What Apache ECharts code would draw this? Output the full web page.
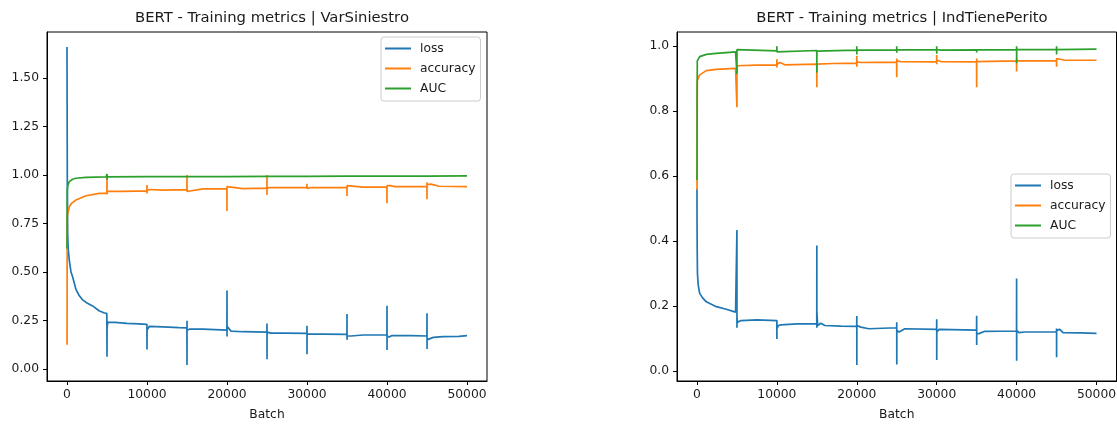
<!DOCTYPE html>
<html>
<head>
<meta charset="utf-8">
<title>BERT - Training metrics</title>
<script src="https://cdn.jsdelivr.net/npm/echarts@6/dist/echarts.min.js"></script>
<style>
  html, body { margin: 0; padding: 0; background: #fff; }
  #chart { width: 1117px; height: 424px; }
</style>
</head>
<body>
<div id="chart"></div>
<script>
// Per-batch training metrics, [batch, value] pairs.

// ---- VarSiniestro ----
const varLoss = [
  [0, 1.66], [40, 0.95], [80, 0.70], [150, 0.62], [290, 0.56], [500, 0.50], [700, 0.475],
  [1120, 0.41], [1500, 0.38], [1950, 0.356], [2500, 0.34], [3200, 0.325], [4000, 0.30],
  [4600, 0.29], [4980, 0.285], [4995, 0.28],
  [5000, 0.063], [5010, 0.25], [5030, 0.22], [5100, 0.24], [6000, 0.24], [7500, 0.235], [9000, 0.232], [9990, 0.23],
  [10000, 0.101], [10010, 0.20], [10100, 0.21], [10300, 0.22], [12000, 0.217], [14000, 0.213], [14990, 0.212],
  [15000, 0.02], [15005, 0.249], [15010, 0.20], [15100, 0.195], [15300, 0.205], [17000, 0.205], [19990, 0.20],
  [20000, 0.404], [20005, 0.167], [20010, 0.22], [20200, 0.21], [20500, 0.195], [22000, 0.192], [24990, 0.19],
  [25000, 0.235], [25005, 0.05], [25010, 0.19], [25200, 0.18], [25500, 0.185], [27000, 0.185], [29990, 0.183],
  [30000, 0.223], [30005, 0.076], [30010, 0.18], [30200, 0.175], [30500, 0.18], [32000, 0.18], [34990, 0.178],
  [35000, 0.283], [35005, 0.15], [35010, 0.17], [35500, 0.17], [37000, 0.175], [39990, 0.175],
  [40000, 0.326], [40005, 0.098], [40010, 0.17], [40300, 0.165], [40600, 0.172], [43000, 0.172], [44990, 0.17],
  [45000, 0.287], [45005, 0.103], [45010, 0.15], [45300, 0.155], [45800, 0.163], [47000, 0.167], [49000, 0.168], [50000, 0.172]
];
const varAcc = [
  [0, 0.19], [10, 0.125], [20, 0.62], [40, 0.79], [100, 0.80], [290, 0.837], [600, 0.855], [1120, 0.871],
  [2370, 0.893], [4040, 0.905], [4990, 0.905],
  [5000, 1.005], [5005, 0.90], [5010, 0.915], [7000, 0.915], [9990, 0.918],
  [10000, 0.948], [10005, 0.905], [10010, 0.92], [10300, 0.925], [12000, 0.922], [14990, 0.925],
  [15000, 1.0], [15005, 0.915], [15010, 0.925], [17000, 0.928], [19990, 0.93],
  [20000, 0.814], [20005, 0.94], [20010, 0.93], [22000, 0.93], [24990, 0.932],
  [25000, 1.0], [25005, 0.897], [25010, 0.93], [25300, 0.935], [27000, 0.935], [29990, 0.935],
  [30000, 0.955], [30005, 0.93], [30010, 0.94], [30400, 0.935], [34990, 0.935],
  [35000, 0.892], [35005, 0.945], [35010, 0.935], [37000, 0.937], [39990, 0.937],
  [40000, 0.854], [40005, 0.945], [40010, 0.94], [40400, 0.945], [41000, 0.94], [44990, 0.94],
  [45000, 0.875], [45005, 0.962], [45010, 0.95], [45500, 0.953], [46500, 0.942], [50000, 0.94]
];
const varAuc = [
  [0, 0.62], [15, 0.70], [30, 0.92], [100, 0.945], [290, 0.966], [700, 0.978], [1120, 0.983],
  [2370, 0.988], [4880, 0.99], [4990, 0.99],
  [5000, 1.005], [5005, 0.975], [5010, 0.99], [9990, 0.991],
  [10000, 1.0], [10005, 0.99], [10010, 0.991], [14990, 0.992],
  [15000, 1.002], [15005, 0.99], [15010, 0.992], [19990, 0.992],
  [20000, 0.983], [20005, 0.995], [20010, 0.992], [24990, 0.993],
  [25000, 1.003], [25005, 0.99], [25010, 0.993], [29990, 0.993],
  [30000, 1.0], [30005, 0.99], [30010, 0.993], [34990, 0.994],
  [35000, 0.999], [35005, 0.99], [35010, 0.994], [39990, 0.994],
  [40000, 1.0], [40005, 0.99], [40010, 0.994], [44990, 0.994],
  [45000, 1.0], [45005, 0.99], [45010, 0.995], [50000, 0.995]
];

// ---- IndTienePerito ----
const perLoss = [
  [0, 0.563], [10, 0.45], [30, 0.37], [60, 0.30], [150, 0.265], [340, 0.239], [700, 0.225], [1170, 0.213],
  [2420, 0.198], [3670, 0.19], [4830, 0.181], [4990, 0.18],
  [5000, 0.434], [5005, 0.133], [5010, 0.16], [5100, 0.15], [5500, 0.155], [7500, 0.157], [9990, 0.155],
  [10000, 0.098], [10005, 0.155], [10010, 0.13], [10200, 0.14], [10500, 0.142], [12500, 0.145], [14990, 0.145],
  [15000, 0.386], [15005, 0.133], [15010, 0.18], [15100, 0.14], [15500, 0.147], [16000, 0.14], [18000, 0.138], [19990, 0.137],
  [20000, 0.169], [20005, 0.018], [20010, 0.14], [20500, 0.135], [21500, 0.13], [24990, 0.133],
  [25000, 0.15], [25005, 0.02], [25010, 0.125], [25300, 0.12], [26000, 0.13], [29990, 0.128],
  [30000, 0.159], [30005, 0.034], [30010, 0.12], [30300, 0.128], [34990, 0.126],
  [35000, 0.17], [35005, 0.08], [35010, 0.115], [35300, 0.115], [36000, 0.122], [39990, 0.123],
  [40000, 0.285], [40005, 0.031], [40010, 0.125], [40300, 0.118], [41000, 0.12], [44990, 0.12],
  [45000, 0.131], [45005, 0.042], [45010, 0.125], [45400, 0.128], [45800, 0.118], [48000, 0.117], [50000, 0.116]
];
const perAcc = [
  [0, 0.59], [10, 0.557], [20, 0.75], [40, 0.896], [340, 0.912], [1170, 0.925], [2420, 0.929], [4830, 0.932], [4990, 0.932],
  [5000, 0.812], [5005, 0.93], [5010, 0.94], [7500, 0.942], [9990, 0.942],
  [10000, 0.96], [10005, 0.935], [10010, 0.945], [10400, 0.95], [11000, 0.943], [14990, 0.945],
  [15000, 0.874], [15005, 0.945], [15010, 0.945], [17000, 0.947], [19990, 0.948],
  [20000, 0.97], [20005, 0.937], [20010, 0.952], [20500, 0.95], [24990, 0.951],
  [25000, 0.905], [25005, 0.962], [25010, 0.955], [25500, 0.953], [29990, 0.952],
  [30000, 0.973], [30005, 0.945], [30010, 0.958], [30500, 0.953], [34990, 0.952],
  [35000, 0.874], [35005, 0.962], [35010, 0.953], [39990, 0.955],
  [40000, 0.922], [40005, 0.962], [40010, 0.955], [44990, 0.955],
  [45000, 0.937], [45005, 0.962], [45010, 0.958], [45500, 0.96], [46000, 0.957], [50000, 0.957]
];
const perAuc = [
  [0, 0.588], [10, 0.62], [20, 0.85], [40, 0.955], [340, 0.968], [1170, 0.975], [2420, 0.978], [4830, 0.983], [4990, 0.983],
  [5000, 0.915], [5005, 0.99], [5010, 0.985], [9990, 0.986],
  [10000, 1.0], [10005, 0.983], [10010, 0.987], [14990, 0.987],
  [15000, 0.919], [15005, 0.985], [15010, 0.987], [19990, 0.988],
  [20000, 1.0], [20005, 0.975], [20010, 0.988], [24990, 0.988],
  [25000, 1.0], [25005, 0.98], [25010, 0.989], [29990, 0.989],
  [30000, 1.0], [30005, 0.977], [30010, 0.99], [30500, 0.988], [34990, 0.989],
  [35000, 0.993], [35005, 0.981], [35010, 0.989], [39990, 0.99],
  [40000, 1.0], [40005, 0.948], [40010, 0.99], [44990, 0.99],
  [45000, 1.0], [45005, 0.975], [45010, 0.99], [50000, 0.991]
];

// Axis ticks
const batchTicks = [0, 10000, 20000, 30000, 40000, 50000];
const varTicks = [0, 0.25, 0.5, 0.75, 1.0, 1.25, 1.5];
const perTicks = [0, 0.2, 0.4, 0.6, 0.8, 1.0];

const titles = ['BERT - Training metrics | VarSiniestro', 'BERT - Training metrics | IndTienePerito'];
const metricNames = ['loss', 'accuracy', 'AUC'];
const colors = ['#1f77b4', '#ff7f0e', '#2ca02c'];

const FONT = 'DejaVu Sans';
const TXT = '#1a1a1a';
const TICK_SIZE = 12.3;
const TITLE_SIZE = 14.8;

function xAxisFor(gridIndex) {
  return {
    type: 'value', gridIndex, min: -2500, max: 52500,
    name: 'Batch', nameLocation: 'middle', nameGap: 28,
    nameTextStyle: { fontFamily: FONT, fontSize: TICK_SIZE, color: TXT },
    axisLine: { show: true, onZero: false, lineStyle: { color: '#000', width: 1 } },
    axisTick: { show: true, length: 4, lineStyle: { color: '#000' }, customValues: batchTicks },
    axisLabel: {
      show: true, margin: 8, fontFamily: FONT, fontSize: TICK_SIZE, color: TXT, customValues: batchTicks,
      formatter: v => String(Math.round(v))
    },
    splitLine: { show: false }
  };
}
function yAxisFor(gridIndex, min, max, ticks, digits) {
  return {
    type: 'value', gridIndex, min, max,
    axisLine: { show: true, onZero: false, lineStyle: { color: '#000', width: 1 } },
    axisTick: { show: true, length: 4, lineStyle: { color: '#000' }, customValues: ticks },
    axisLabel: {
      show: true, margin: 8, fontFamily: FONT, fontSize: TICK_SIZE, color: TXT, customValues: ticks,
      formatter: v => Number(v).toFixed(digits)
    },
    splitLine: { show: false }
  };
}
function legendAt(left, top) {
  return {
    data: metricNames, orient: 'vertical', left, top,
    icon: 'rect', itemWidth: 26, itemHeight: 2, itemGap: 5,
    padding: [4, 5, 5, 4],
    backgroundColor: 'rgba(255,255,255,0.8)', borderColor: '#cccccc', borderWidth: 1, borderRadius: 3,
    selectedMode: false,
    textStyle: { fontFamily: FONT, fontSize: TICK_SIZE, color: TXT, lineHeight: 15, padding: [0, 0, 0, 4] }
  };
}

const panels = [
  [varLoss, varAcc, varAuc],
  [perLoss, perAcc, perAuc]
];
const series = [];
panels.forEach((sets, p) => {
  sets.forEach((data, i) => {
    series.push({
      type: 'line', name: metricNames[i], xAxisIndex: p, yAxisIndex: p, data,
      showSymbol: false, symbol: 'none', lineStyle: { width: 1.7, color: colors[i] },
      itemStyle: { color: colors[i] }, emphasis: { disabled: true }, silent: true
    });
  });
});

const chart = echarts.init(document.getElementById('chart'), null, { renderer: 'canvas' });
chart.setOption({
  animation: false,
  backgroundColor: '#ffffff',
  color: colors,
  title: [
    { text: titles[0], left: 267, top: 6, textAlign: 'center', textStyle: { fontFamily: FONT, fontSize: TITLE_SIZE, fontWeight: 'normal', color: TXT } },
    { text: titles[1], left: 897, top: 6, textAlign: 'center', textStyle: { fontFamily: FONT, fontSize: TITLE_SIZE, fontWeight: 'normal', color: TXT } }
  ],
  grid: [
    { left: 47, top: 32, width: 440, height: 349, show: true, borderColor: '#000', borderWidth: 1, backgroundColor: 'transparent', containLabel: false, outerBoundsMode: 'none' },
    { left: 677, top: 32, width: 439.5, height: 349, show: true, borderColor: '#000', borderWidth: 1, backgroundColor: 'transparent', containLabel: false, outerBoundsMode: 'none' }
  ],
  xAxis: [xAxisFor(0), xAxisFor(1)],
  yAxis: [yAxisFor(0, -0.062, 1.737, varTicks, 2), yAxisFor(1, -0.031, 1.044, perTicks, 1)],
  legend: [legendAt(381, 37), legendAt(1011, 174)],
  tooltip: { show: false },
  series
});
</script>
</body>
</html>
